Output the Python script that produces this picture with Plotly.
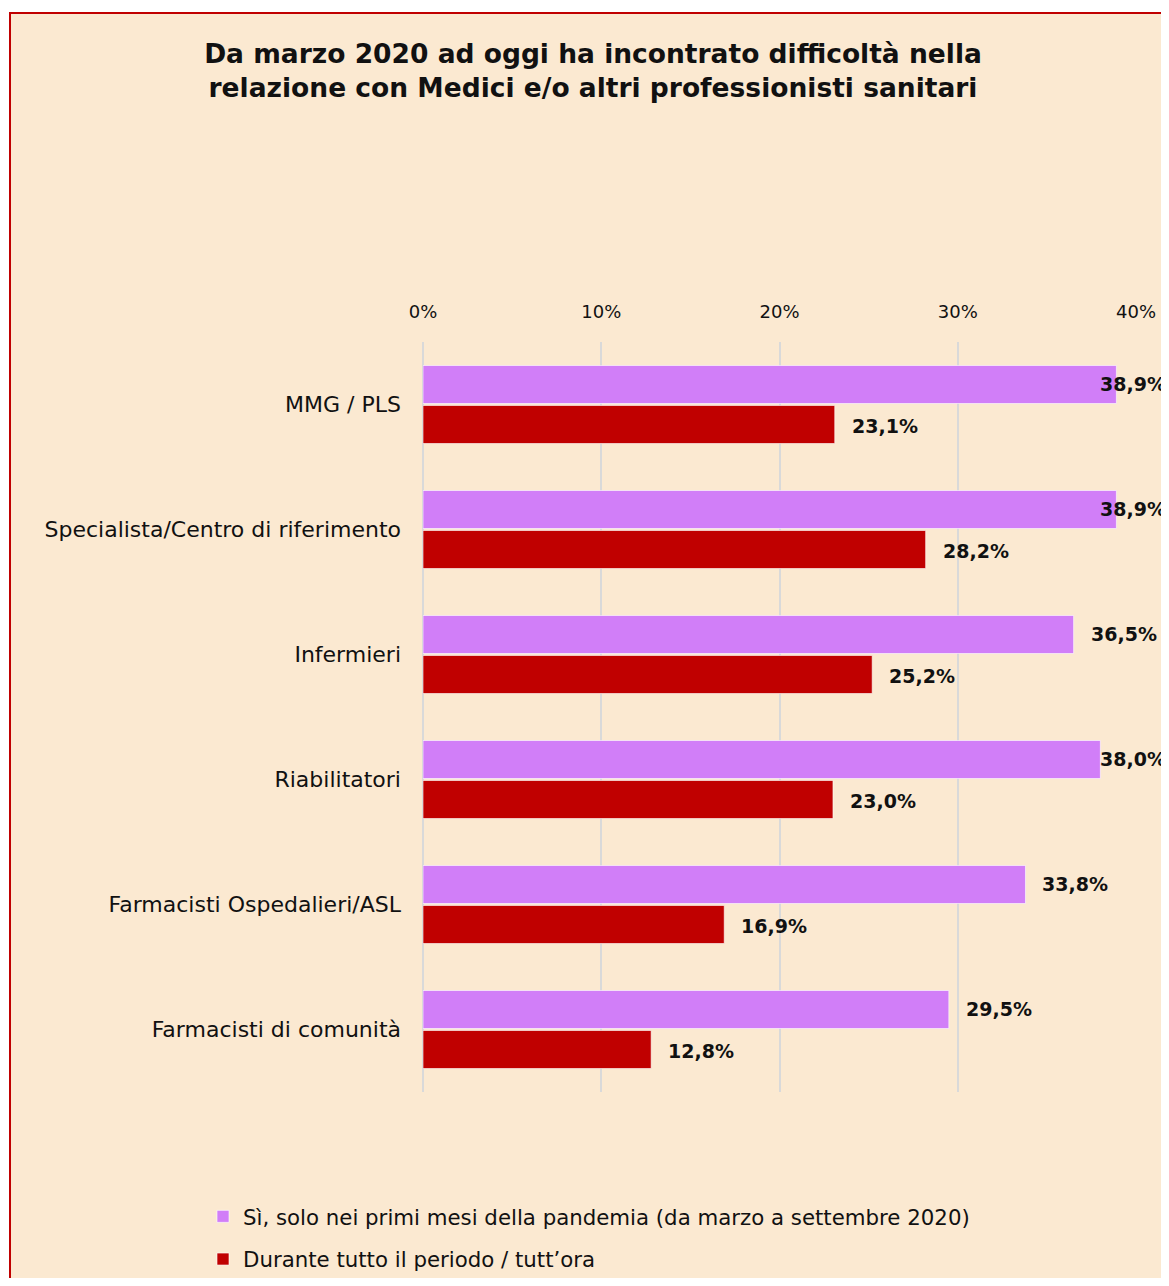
import plotly.graph_objects as go

# ── dati ─────────────────────────────────────────────
CATEGORIES = [
    "MMG / PLS",
    "Specialista/Centro di riferimento",
    "Infermieri",
    "Riabilitatori",
    "Farmacisti Ospedalieri/ASL",
    "Farmacisti di comunità",
]
PRIMI_MESI = [38.9, 38.9, 36.5, 38.0, 33.8, 29.5]
TUTTO_PERIODO = [23.1, 28.2, 25.2, 23.0, 16.9, 12.8]
SERIES_NAMES = [
    "Sì, solo nei primi mesi della pandemia (da marzo a settembre 2020)",
    "Durante tutto il periodo / tutt’ora",
]
TICK_VALS = [0, 10, 20, 30, 40]
TICK_TEXT = ["0%", "10%", "20%", "30%", "40%"]

# ── colori ───────────────────────────────────────────
PURPLE = "#D17EF8"
RED = "#C00000"
BG = "#FBE9D1"
GRID = "#D9D9D9"
TXT = "#111111"
FONT = "DejaVu Sans, Verdana, sans-serif"

# la pagina ha 8px di margine (body), la figura parte da (8, 8)
W, H = 1161, 1270
ML, MR, MT, MB = 415, 33, 334, 186
PW, PH = W - ML - MR, H - MT - MB


def fmt(v: float) -> str:
    return f"{v:.1f}".replace(".", ",") + "%"


fig = go.Figure()
for i, (name, vals, color) in enumerate([(SERIES_NAMES[0], PRIMI_MESI, PURPLE),
                                         (SERIES_NAMES[1], TUTTO_PERIODO, RED)]):
    fig.add_trace(go.Bar(
        y=CATEGORIES, x=vals, name=name, orientation="h",
        legendgroup=f"g{i}",
        marker=dict(color=color, line=dict(color="rgba(255,255,255,0.6)", width=1)),
        hoverinfo="skip",
    ))

# etichette dati
annotations = []
for i, vals in enumerate([PRIMI_MESI, TUTTO_PERIODO]):
    shift = 21 if i == 0 else -21
    for cat, v in zip(CATEGORIES, vals):
        lab_font = dict(size=19, color=TXT, family=FONT, weight="bold")
        if v > 37:
            # come in Excel: etichetta spinta dentro il bordo destro
            annotations.append(dict(
                x=1, xref="paper", y=cat, yref="y", yshift=shift,
                text=fmt(v), showarrow=False, xanchor="right", xshift=MR - 1,
                font=lab_font,
            ))
        else:
            annotations.append(dict(
                x=v, y=cat, yshift=shift, text=fmt(v), showarrow=False,
                xanchor="left", xshift=15, font=lab_font,
            ))

# cornice del grafico
shapes = [dict(
    type="rect", xref="paper", yref="paper",
    x0=(2 - ML) / PW, x1=(W + 20 - ML) / PW,
    y0=-(MB + 20) / PH, y1=(H - MB - 5) / PH,
    fillcolor=BG, line=dict(color=RED, width=2), layer="below",
)]

fig.update_layout(
    width=W, height=H,
    paper_bgcolor="white",
    plot_bgcolor="white",
    barmode="group",
    bargap=0.36,
    bargroupgap=0.05,
    margin=dict(l=ML, r=MR, t=MT, b=MB, autoexpand=False),
    font=dict(family=FONT, color=TXT, size=18),
    title=dict(
        text="Da marzo 2020 ad oggi ha incontrato difficoltà nella<br>relazione con Medici e/o altri professionisti sanitari",
        x=585 / W, xanchor="center", y=1 - 54.5 / H, yanchor="middle",
        font=dict(size=26.5, family=FONT, color=TXT, weight="bold"),
    ),
    xaxis=dict(
        side="top", range=[0, 40], tickvals=TICK_VALS, ticktext=TICK_TEXT,
        showgrid=True, gridcolor=GRID, gridwidth=2,
        zeroline=True, zerolinecolor=GRID, zerolinewidth=2,
        ticks="", ticklabelstandoff=19,
        tickfont=dict(size=18, family=FONT, color=TXT),
        fixedrange=True,
    ),
    yaxis=dict(
        categoryorder="array", categoryarray=CATEGORIES, autorange="reversed",
        ticks="", ticklabelstandoff=21,
        tickfont=dict(size=22, family=FONT, color=TXT),
        fixedrange=True,
    ),
    legend=dict(
        orientation="v", x=(195 - ML) / PW, xanchor="left",
        y=(H - MB - 1188) / PH, yanchor="top",
        traceorder="grouped", tracegroupgap=12,
        font=dict(size=21.3, family=FONT, color=TXT),
        bgcolor="rgba(0,0,0,0)", itemwidth=30,
    ),
    annotations=annotations,
    shapes=shapes,
)

fig.write_html("out.html")
